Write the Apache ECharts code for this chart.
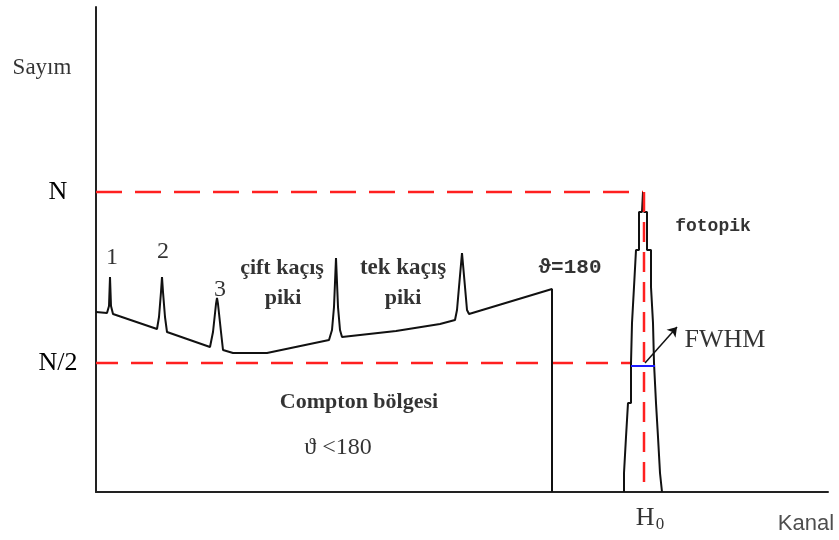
<!DOCTYPE html>
<html>
<head>
<meta charset="utf-8">
<script src="https://cdn.jsdelivr.net/npm/echarts@6/dist/echarts.min.js"></script>
<style>
  html, body { margin: 0; padding: 0; background: #fff; }
  #chart { width: 839px; height: 540px; }
</style>
</head>
<body>
<div id="chart"></div>
<script>
// tick labels on the count axis
const yTickValues = [129, 300];
const yTickLabels = ['N/2', 'N'];

// Compton continuum with the small peaks (1, 2, 3, double / single escape) and the edge
const comptonCurve = [
  [0, 180], [11, 179], [13, 186], [14, 215], [15, 186], [17, 178],
  [61, 163], [63, 175], [65, 200], [66, 215], [67, 200], [69, 175], [71, 160],
  [114, 145], [117, 160], [120, 188], [121, 194], [122, 188], [125, 160], [127, 142],
  [137, 139], [171, 139], [233, 152],
  [236, 162], [238, 185], [240, 234], [242, 185], [244, 162], [246, 155],
  [300, 161], [344, 168], [359, 172],
  [361, 182], [363, 205], [366, 239], [369, 205], [371, 182], [373, 178],
  [456, 203], [456, 0]
];

// photopeak outline (stepped)
const photopeak = [
  [528, 0], [528, 19], [530, 19], [530, 55], [532, 55], [532, 89], [535, 89],
  [535, 129], [536, 129], [536, 169], [538, 169], [538, 205], [540, 205],
  [540, 242], [543, 242], [543, 280], [546, 280], [547, 300],
  [548, 280], [551, 280], [551, 242], [555, 242], [555, 205], [557, 205],
  [557, 169], [558, 169], [558, 129], [560, 129], [560, 89], [562, 89],
  [562, 55], [564, 55], [564, 19], [566, 19], [566, 0]
];

const nLine = [[0, 300], [547, 300]];
const halfLine = [[0, 129], [536, 129]];
const centerLine = [[548, 300], [548, 0]];
const fwhmLine = [[535, 126], [559, 126]];
const fwhmArrow = [[549, 129], [581, 165]];

// annotation texts and where they sit (data coords)
const labelTexts = ['Sayım', '1', '2', '3', 'çift kaçış', 'piki', 'tek kaçış', 'piki',
  'ϑ=180', 'fotopik', 'FWHM', 'Compton bölgesi', 'ϑ <180', 'H{s|0}', 'Kanal'];
const labelX = [-54, 16, 67, 124, 186, 187, 307, 307, 474, 617, 629, 263, 242, 554, 710];
const labelY = [424, 234, 240, 202, 224, 194, 224, 194, 224, 266, 152, 90, 44, -26, -32];

const serif = 'Liberation Serif';
function styleFor(t) {
  if (t === 'Kanal') return { fontFamily: 'Liberation Sans', fontSize: 22, color: '#222' };
  if (t === 'fotopik') return { fontFamily: 'Liberation Mono', fontSize: 18, fontWeight: 'bold' };
  if (t === 'ϑ=180') return { fontFamily: 'Liberation Mono', fontSize: 21, fontWeight: 'bold' };
  if (t === 'FWHM') return { fontFamily: serif, fontSize: 26 };
  if (t === '1' || t === '2' || t === '3') return { fontFamily: serif, fontSize: 24 };
  if (t === 'Sayım') return { fontFamily: serif, fontSize: 23 };
  if (t === 'ϑ <180') return { fontFamily: serif, fontSize: 24 };
  if (t.indexOf('H{') === 0) return { fontFamily: serif, fontSize: 26 };
  if (t === 'Compton bölgesi') return { fontFamily: serif, fontSize: 22, fontWeight: 'bold' };
  if (t === 'tek kaçış') return { fontFamily: serif, fontSize: 23, fontWeight: 'bold' };
  return { fontFamily: serif, fontSize: 22, fontWeight: 'bold' };
}

let myChart = echarts.init(document.getElementById('chart'));

let option = {
  animation: false,
  backgroundColor: '#fff',
  grid: { left: 96, right: 11, top: 7, bottom: 48 },
  xAxis: {
    type: 'value', min: 0, max: 732,
    axisLine: { lineStyle: { color: '#222', width: 2 } },
    axisTick: { show: false }, axisLabel: { show: false }, splitLine: { show: false }
  },
  yAxis: {
    type: 'value', min: 0, max: 485,
    axisLine: { show: true, lineStyle: { color: '#222', width: 2 } },
    axisTick: { show: false },
    splitLine: { show: false },
    axisLabel: {
      customValues: yTickValues,
      formatter: v => yTickLabels[yTickValues.indexOf(v)],
      align: 'center',
      margin: 38,
      fontFamily: serif,
      fontSize: 26,
      color: '#000'
    }
  },
  series: [
    {
      type: 'line', data: nLine, symbol: 'none',
      lineStyle: { color: '#ff2020', width: 2.5, type: [26, 13] }
    },
    {
      type: 'line', data: halfLine, symbol: 'none',
      lineStyle: { color: '#ff2020', width: 2.5, type: [22, 13] }
    },
    {
      type: 'line', data: comptonCurve, symbol: 'none',
      lineStyle: { color: '#111', width: 2 }
    },
    {
      type: 'line', data: photopeak, symbol: 'none',
      lineStyle: { color: '#111', width: 2 }
    },
    {
      type: 'line', data: centerLine, symbol: 'none',
      lineStyle: { color: '#ff2020', width: 2.5, type: [20, 10] }
    },
    {
      type: 'line', data: fwhmLine, symbol: 'none',
      lineStyle: { color: '#1a1aff', width: 2 },
      markLine: {
        silent: true,
        symbol: ['none', 'arrow'],
        symbolSize: 9,
        label: { show: false },
        lineStyle: { color: '#111', width: 1.5, type: 'solid' },
        data: [[{ coord: fwhmArrow[0] }, { coord: fwhmArrow[1] }]]
      }
    },
    {
      type: 'scatter', symbolSize: 0, clip: false, silent: true,
      data: labelTexts.map((t, i) => ({
        value: [labelX[i], labelY[i]],
        label: Object.assign({
          show: true, position: 'inside', color: '#000',
          formatter: t,
          rich: {
            s: { fontFamily: serif, fontSize: 17, padding: [14, 0, 0, 1], color: '#000' }
          }
        }, styleFor(t))
      }))
    }
  ]
};

myChart.setOption(option);
window.addEventListener('resize', () => {
  myChart.resize();
});
</script>
</body>
</html>
